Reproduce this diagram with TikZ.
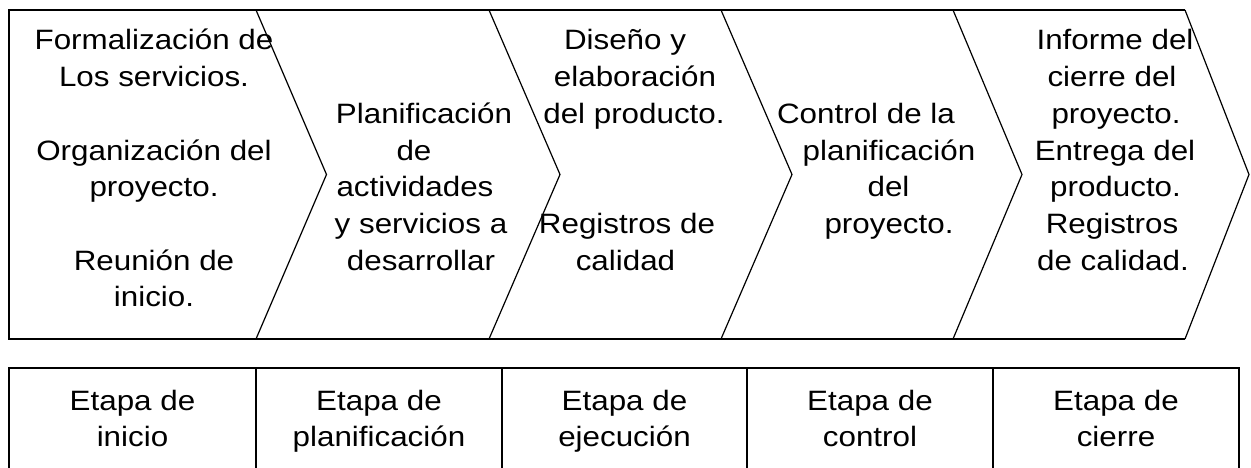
\documentclass[tikz,border=0pt]{standalone}
\usepackage{fontspec}
\setmainfont{Liberation Sans}[FakeStretch=1.12]
\begin{document}
\begin{tikzpicture}[x=1pt,y=-1pt,
  frame/.style={line width=1.6pt,line join=miter},
  chev/.style={line width=1.2pt,line join=miter},
  txt/.style={anchor=base,inner sep=0pt,font=\fontsize{28}{34}\selectfont}]
\useasboundingbox (0,0) rectangle (1251,468);
% top band
\draw[frame] (1185,10) -- (9,10) -- (9,339) -- (1185,339);
\foreach \xx/\tt in {256/326.5,489/560,721/792,953/1022,1185/1249}{
  \draw[chev] (\xx,10) -- (\tt,174.5) -- (\xx,339);
}
% column 1
\node[txt] (a1) at (154,50) {Formalización de};
\node[txt] (a2) at (154,86.7) {Los servicios.};
\node[txt] (a3) at (154,160.1) {Organización del};
\node[txt] (a4) at (154,196.8) {proyecto.};
\node[txt] (a5) at (154,270.2) {Reunión de};
\node[txt] (a6) at (154,306.9) {inicio.};
% column 2
\node[txt] (b1) at (424,123.4) {Planificación};
\node[txt] (b2) at (414,160.1) {de};
\node[txt] (b3) at (415,196.8) {actividades};
\node[txt] (b4) at (421,233.5) {y servicios a};
\node[txt] (b5) at (421,270.2) {desarrollar};
% column 3
\node[txt] (c1) at (625,50) {Diseño y};
\node[txt] (c2) at (635,86.7) {elaboración};
\node[txt] (c3) at (634,123.4) {del producto.};
\node[txt] (c4) at (627,233.5) {Registros de};
\node[txt] (c5) at (625.5,270.2) {calidad};
% column 4
\node[txt] (d1) at (866,123.4) {Control de la};
\node[txt] (d2) at (889,160.1) {planificación};
\node[txt] (d3) at (888.5,196.8) {del};
\node[txt] (d4) at (889,233.5) {proyecto.};
% column 5
\node[txt] (e1) at (1115,50) {Informe del};
\node[txt] (e2) at (1112,86.7) {cierre del};
\node[txt] (e3) at (1116,123.4) {proyecto.};
\node[txt] (e4) at (1115,160.1) {Entrega del};
\node[txt] (e5) at (1115.5,196.8) {producto.};
\node[txt] (e6) at (1112,233.5) {Registros};
\node[txt] (e7) at (1113,270.2) {de calidad.};
% lower table
\draw[frame] (9,472) -- (9,368) -- (1239,368) -- (1239,472);
\foreach \xx in {256,502,747,993}{
  \draw[frame] (\xx,368) -- (\xx,472);
}
\node[txt] (s1a) at (132.5,410) {Etapa de};
\node[txt] (s1b) at (132.5,446) {inicio};
\node[txt] (s2a) at (379,410) {Etapa de};
\node[txt] (s2b) at (379,446) {planificación};
\node[txt] (s3a) at (624.5,410) {Etapa de};
\node[txt] (s3b) at (624.5,446) {ejecución};
\node[txt] (s4a) at (870,410) {Etapa de};
\node[txt] (s4b) at (870,446) {control};
\node[txt] (s5a) at (1116,410) {Etapa de};
\node[txt] (s5b) at (1116,446) {cierre};
\end{tikzpicture}
\end{document}
